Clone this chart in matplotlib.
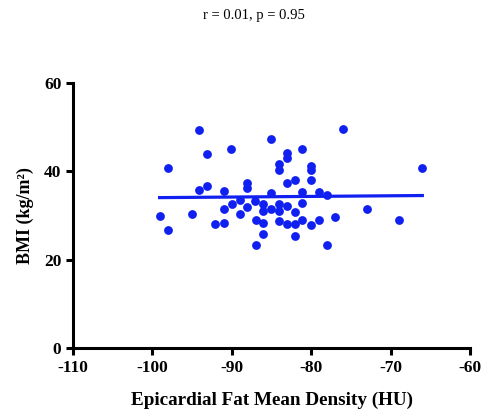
import numpy as np
import matplotlib.pyplot as plt

# epicardial fat mean density (HU) and BMI (kg/m2) per patient
density = [-99.1, -98.1, -98.1, -95.0, -94.1, -94.1, -93.1, -93.1, -92.1, -91.0,
           -91.0, -91.0, -90.1, -90.0, -89.0, -89.0, -88.1, -88.1, -88.1, -87.1,
           -87.0, -87.0, -86.1, -86.1, -86.1, -86.1, -85.1, -85.1, -85.1, -84.1,
           -84.1, -84.1, -84.1, -84.1, -83.1, -83.1, -83.1, -83.1, -83.1, -82.1,
           -82.1, -82.1, -82.1, -81.1, -81.1, -81.1, -81.1, -80.0, -80.0, -80.0,
           -80.0, -79.0, -79.0, -78.0, -78.0, -77.0, -76.0, -73.0, -69.0, -66.0]
bmi = [29.9, 40.7, 26.7, 30.4, 49.3, 35.8, 43.9, 36.7, 28.1, 28.3,
       35.4, 31.4, 45.0, 32.6, 33.5, 30.3, 37.3, 36.1, 31.8, 33.3,
       29.0, 23.4, 32.6, 31.0, 28.2, 25.7, 47.3, 35.1, 31.5, 41.5,
       40.3, 32.6, 31.0, 28.8, 44.2, 43.0, 37.3, 32.1, 28.1, 37.9,
       30.7, 28.1, 25.3, 45.0, 35.3, 32.7, 28.9, 41.1, 40.3, 38.0,
       27.9, 35.3, 28.9, 34.6, 23.3, 29.6, 49.6, 31.5, 29.0, 40.7]

x_ticks = [-110, -100, -90, -80, -70, -60]
y_ticks = [0, 20, 40, 60]

plt.rcParams['font.family'] = ['Liberation Serif', 'DejaVu Serif']
plt.rcParams['axes.unicode_minus'] = False

fig = plt.figure(figsize=(4.84, 4.13), dpi=100)
ax = fig.add_axes([0.151, 0.157, 0.820, 0.643])

blue = '#1020F0'
ax.scatter(density, bmi, s=40, color=blue, zorder=3, linewidths=0)

# least-squares line over the data range
slope, icpt = np.polyfit(density, bmi, 1)
xs = np.array([min(density), max(density)])
ax.plot(xs, slope * xs + icpt, color=blue, lw=2.3, zorder=2)

ax.set_xlim(-110, -60)
ax.set_ylim(0, 60)
ax.set_xticks(x_ticks)
ax.set_yticks(y_ticks)
for s in ['top', 'right']:
    ax.spines[s].set_visible(False)
for s in ['left', 'bottom']:
    ax.spines[s].set_linewidth(2.2)
ax.tick_params(width=2.2, length=5, labelsize=12.5)
for lab in ax.get_xticklabels() + ax.get_yticklabels():
    lab.set_fontweight('bold')

ax.set_xlabel('Epicardial Fat Mean Density (HU)', fontsize=13.8, fontweight='bold', labelpad=11)
ax.set_ylabel('BMI (kg/m²)', fontsize=13, fontweight='bold', labelpad=7)
fig.text(0.525, 0.962, 'r = 0.01, p = 0.95', ha='center', va='center', fontsize=10.5)

fig.savefig('out.png', dpi=100)
